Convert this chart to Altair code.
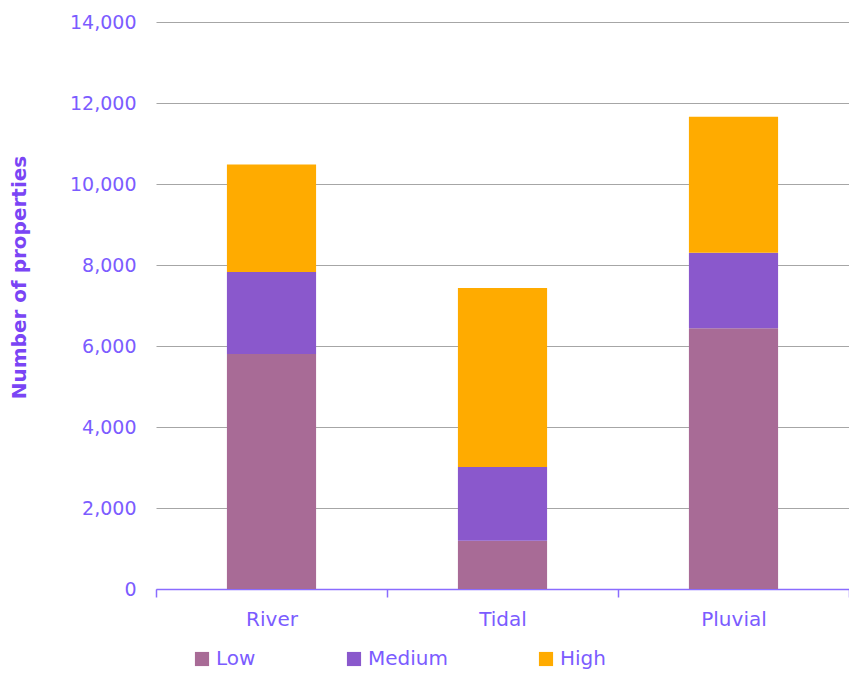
import altair as alt
import pandas as pd

categories = ["River", "Tidal", "Pluvial"]
levels = ["Low", "Medium", "High"]
low = [5800, 1190, 6440]
medium = [2030, 1820, 1860]
high = [2650, 4420, 3360]

rows = []
for i, c in enumerate(categories):
    for j, (lvl, vals) in enumerate(zip(levels, [low, medium, high])):
        rows.append({"Source": c, "Level": lvl, "Value": vals[i], "ord": j})
df = pd.DataFrame(rows)

label_color = "#7B5CFF"
title_color = "#7A45F5"
font = "DejaVu Sans"

chart = alt.Chart(df).mark_bar(width=alt.RelativeBandSize(0.386)).encode(
    x=alt.X("Source:N", sort=categories,
            scale=alt.Scale(paddingInner=0, paddingOuter=0),
            axis=alt.Axis(title=None, labelAngle=0, labelFontSize=20, labelColor=label_color,
                          labelFont=font, labelPadding=12, tickBand="extent",
                          domainColor="#8A6CFF", tickColor="#8A6CFF", tickSize=8,
                          domainWidth=1.5, tickWidth=1.5, grid=False)),
    y=alt.Y("Value:Q", scale=alt.Scale(domain=[0, 14000]),
            axis=alt.Axis(title="Number of properties", values=list(range(0, 14001, 2000)),
                          format=",.0f", labelFontSize=19, labelColor=label_color, labelFont=font,
                          labelPadding=20, ticks=False, domain=False,
                          gridColor="#A6A6A6", gridWidth=1,
                          titleFont=font, titleFontSize=20, titleFontWeight="bold",
                          titleColor=title_color, titlePadding=40, titleY=255)),
    color=alt.Color("Level:N", sort=levels,
                    scale=alt.Scale(domain=levels, range=["#A86B96", "#8A58CC", "#FFAB00"]),
                    legend=alt.Legend(title=None, orient="none", legendX=36, legendY=627,
                                      direction="horizontal", columns=3, columnPadding=88,
                                      symbolType="square", symbolSize=200, symbolStrokeWidth=0,
                                      labelFontSize=20, labelColor=label_color, labelFont=font,
                                      labelOffset=4)),
    order=alt.Order("ord:Q", sort="ascending"),
).properties(
    width=693, height=567,
    background="white",
    autosize=alt.AutoSizeParams(type="none"),
    padding={"left": 148, "top": 14, "right": 0, "bottom": 83},
).configure_view(stroke=None)

chart.save("out.html", embed_options={"renderer": "svg", "actions": False})
